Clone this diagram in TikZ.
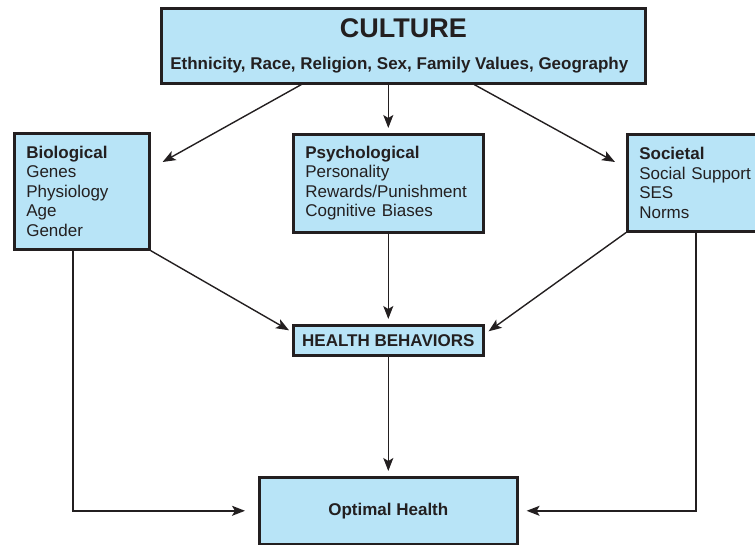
\documentclass[tikz,border=0pt]{standalone}
\usepackage{fontspec}
\setmainfont{Liberation Sans}
\usetikzlibrary{arrows.meta}
\definecolor{boxblue}{HTML}{B8E4F7}
\definecolor{ink}{HTML}{231F20}

\begin{document}
\begin{tikzpicture}[x=1pt,y=-1pt,
	box/.style={draw=ink,fill=boxblue,line width=2.6pt,inner xsep=12pt,inner ysep=0pt,anchor=north west},
	factor/.style={box,align=left,font=\fontsize{17}{19.5}\selectfont},
	link/.style={draw=ink,line width=1.4pt,-{Stealth[length=13pt,width=10pt,inset=3pt]}},
	every node/.style={text=ink}]
	\pgfmathsetmacro{\tip}{5}		%gap between arrow tip and box

	\clip (0,0) rectangle (755,545);

	%top box
	\node[box,inner xsep=4pt,align=center,minimum width=484pt,minimum height=75pt] (cult) at (160,7)
		{{\fontsize{27}{27}\selectfont\bfseries CULTURE}\\[18pt]
		 {\fontsize{17}{18}\selectfont\bfseries Ethnicity, Race, Religion, Sex, Family Values, Geography\hspace*{8pt}}};

	%factors
	\node[factor,text width=111pt,minimum height=116pt] (bio) at (13,132)
		{\textbf{Biological}\\Genes\\Physiology\\Age\\Gender};
	\node[factor,text width=166pt,minimum height=98pt] (psych) at (292,133)
		{\textbf{Psychological}\\Personality\\Rewards/Punishment\\Cognitive Biases};
	\node[factor,text width=126pt,minimum height=97pt] (soc) at (626,133)
		{\textbf{Societal}\\Social Support\\SES\\Norms};

	%behaviour and outcome
	\node[box,inner xsep=2pt,minimum width=190pt,minimum height=30pt,font=\fontsize{17}{17}\selectfont\bfseries] (hb) at (292,324) {HEALTH BEHAVIORS};
	\node[box,minimum width=258pt,minimum height=67pt,font=\fontsize{17}{17}\selectfont\bfseries] (opt) at (258,476) {Optimal Health};

	%culture to factors
	\draw[link] ([xshift=-102pt]cult.south) -- ([shift={(12,30)}]bio.north east);
	\draw[link,shorten >=\tip pt] (cult.south -| psych.north) -- (psych.north);
	\draw[link] ([xshift=71pt]cult.south) -- ([shift={(-11,29)}]soc.north west);

	%factors to behaviours
	\draw[link] (bio.south east) -- ([shift={(-3,-10)}]hb.west);
	\draw[link,shorten >=\tip pt] (psych.south) -- (psych.south |- hb.north);
	\draw[link] (soc.south west) -- ([shift={(4,-9)}]hb.east);

	%to outcome
	\draw[link,shorten >=\tip pt] (hb.south) -- (hb.south |- opt.north);
	\draw[link] ([xshift=60pt]bio.south west) |- ([xshift=-13pt]opt.west);
	\draw[link] ([xshift=70pt]soc.south west) |- ([xshift=8pt]opt.east);
\end{tikzpicture}
\end{document}
